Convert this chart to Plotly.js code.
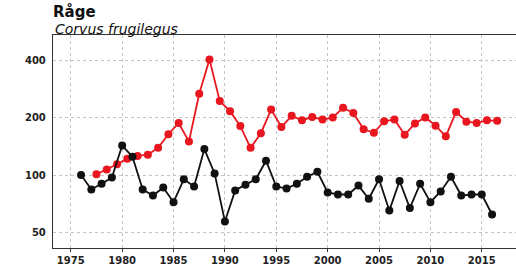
<!DOCTYPE html>
<html>
<head>
<meta charset="utf-8">
<script src="https://cdn.plot.ly/plotly-3.0.1.min.js"></script>
<style>html,body{margin:0;padding:0;background:#fff}#chart{width:516px;height:267px}</style>
</head>
<body>
<div id="chart"></div>
<script>
var yearsBlack = [1976,1977,1978,1979,1980,1981,1982,1983,1984,1985,1986,1987,1988,1989,1990,1991,1992,1993,1994,1995,1996,1997,1998,1999,2000,2001,2002,2003,2004,2005,2006,2007,2008,2009,2010,2011,2012,2013,2014,2015,2016];
var valuesBlack = [100,84,90,97,143,125,84,78,86,72,95,87,137,102,57,83,89,95,119,87,85,90,98,104,81,79,79,88,75,95,65,93,67,90,72,82,98,78,79,79,62];
var yearsRed = [1977.5,1978.5,1979.5,1980.5,1981.5,1982.5,1983.5,1984.5,1985.5,1986.5,1987.5,1988.5,1989.5,1990.5,1991.5,1992.5,1993.5,1994.5,1995.5,1996.5,1997.5,1998.5,1999.5,2000.5,2001.5,2002.5,2003.5,2004.5,2005.5,2006.5,2007.5,2008.5,2009.5,2010.5,2011.5,2012.5,2013.5,2014.5,2015.5,2016.5];
var valuesRed = [101,107,114,122,126,128,139,164,188,150,268,406,245,217,181,139,166,221,179,205,194,202,196,201,226,212,174,167,192,196,163,187,201,182,160,215,191,188,194,193];
var xTicks = [1975,1980,1985,1990,1995,2000,2005,2010,2015];
var yTicks = [50,100,200,400];

var traces = [
  {x: yearsRed, y: valuesRed, type: 'scatter', mode: 'lines+markers',
   line: {color: '#e8161e', width: 1.8}, marker: {color: '#e8161e', size: 8}},
  {x: yearsBlack, y: valuesBlack, type: 'scatter', mode: 'lines+markers',
   line: {color: '#111', width: 1.8}, marker: {color: '#111', size: 8}}
];
var layout = {
  width: 516, height: 267,
  margin: {l: 53, r: 0, t: 35, b: 19},
  paper_bgcolor: '#fff', plot_bgcolor: '#fff',
  showlegend: false,
  font: {family: 'DejaVu Sans', color: '#222'},
  title: {text: '<b>Råge</b>', font: {family: 'DejaVu Sans', size: 15, color: '#111'},
          x: 53/516, xref: 'container', xanchor: 'left', y: 1 - 12/267, yref: 'container', yanchor: 'middle'},
  annotations: [{text: '<i>Corvus frugilegus</i>', xref: 'paper', yref: 'paper', x: 0, y: 1 + 6/213,
                 xanchor: 'left', yanchor: 'middle', showarrow: false,
                 font: {family: 'DejaVu Sans', size: 14, color: '#111'}}],
  xaxis: {range: [1973.27, 2018.33], tickvals: xTicks, ticktext: xTicks.map(String),
          showgrid: true, gridcolor: '#c4c4c4', griddash: 'dot', gridwidth: 1,
          showline: true, linecolor: '#333', linewidth: 1.2, mirror: true,
          ticks: 'outside', ticklen: 3, tickcolor: '#333', zeroline: false,
          tickfont: {family: 'DejaVu Sans', size: 10, color: '#222', weight: 'bold'}},
  yaxis: {type: 'log', range: [Math.log10(41.3), Math.log10(546)], tickvals: yTicks, ticktext: yTicks.map(String),
          showgrid: true, gridcolor: '#c4c4c4', griddash: 'dot', gridwidth: 1,
          showline: true, linecolor: '#333', linewidth: 1.2,
          ticks: '', ticklabelstandoff: 4, zeroline: false,
          tickfont: {family: 'DejaVu Sans', size: 10, color: '#222', weight: 'bold'}}
};
Plotly.newPlot('chart', traces, layout, {staticPlot: true, displayModeBar: false});
</script>
</body>
</html>
